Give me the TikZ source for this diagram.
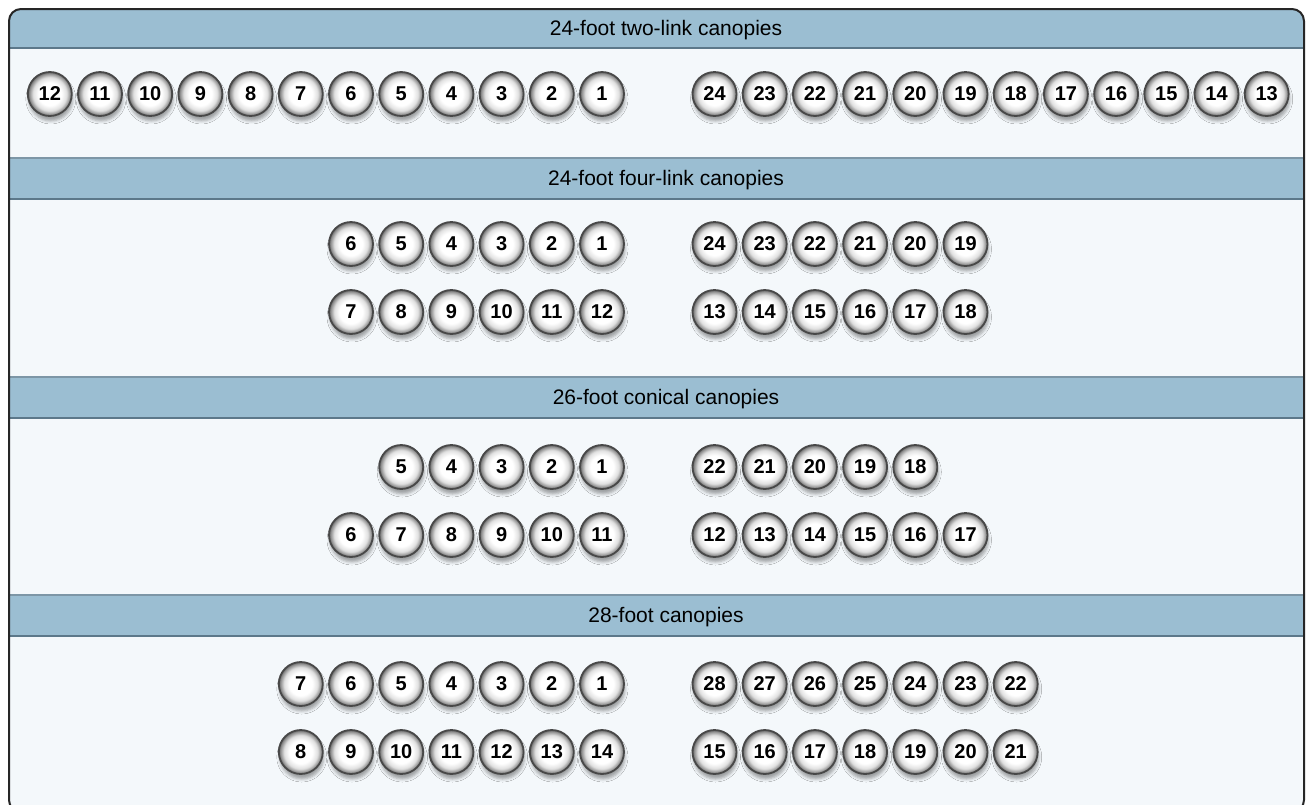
\documentclass[tikz,border=0pt]{standalone}
\usepackage{fontspec}
\setmainfont{Liberation Sans}
\usetikzlibrary{shadows.blur}

\definecolor{hdrblue}{RGB}{155,190,210}
\definecolor{hdrtop}{RGB}{125,150,166}
\definecolor{hdrbot}{RGB}{92,120,138}
\definecolor{panel}{RGB}{244,248,251}
\definecolor{rim}{RGB}{72,72,72}

\pgfdeclareradialshading{knob}{\pgfpoint{0bp}{0bp}}{color(0bp)=(white); color(13bp)=(white); color(19bp)=(black!12); color(23bp)=(black!42); color(25bp)=(black!60); color(50bp)=(black!60)}

\begin{document}
\begin{tikzpicture}[x=1pt, y=-1pt,
  ball/.style={circle, draw=rim, line width=1.8pt, minimum size=44pt, inner sep=0pt,
               shading=knob,
               blur shadow={shadow xshift=1pt, shadow yshift=-5pt, shadow blur radius=3pt, shadow opacity=35},
               font=\fontsize{20}{22}\selectfont\bfseries},
  hdrtext/.style={font=\fontsize{21}{24}\selectfont, inner sep=0pt}
]
  \useasboundingbox (0,0) rectangle (1308,804);

  % panel and header bars
  \begin{scope}
    \clip[rounded corners=12pt] (9,9) rectangle (1304,812);
    \fill[panel] (9,9) rectangle (1304,812);
    \foreach \top/\bot in {8/48, 158/199, 377/418, 595/636} {
      \fill[hdrblue] (9,\top) rectangle (1304,\bot);
      \draw[hdrtop, line width=1.2pt] (9,\top) -- (1304,\top);
      \draw[hdrbot, line width=1.5pt] (9,\bot) -- (1304,\bot);
    }
  \end{scope}
  \draw[black!85, line width=2pt, rounded corners=12pt] (9,9) rectangle (1304,812);

  \node[hdrtext] (hdr1) at (666,30)  {24-foot two-link canopies};
  \node[hdrtext] (hdr2) at (666,180) {24-foot four-link canopies};
  \node[hdrtext] (hdr3) at (666,399) {26-foot conical canopies};
  \node[hdrtext] (hdr4) at (666,617) {28-foot canopies};

  % 24-foot two-link
  \foreach \n in {12,11,...,1}
    \node[ball] (tl\n) at ({602-(\n-1)*50.2},94) {\n};
  \foreach \n in {24,23,...,13}
    \node[ball] (tl\n) at ({714.5+(24-\n)*50.2},94) {\n};

  % 24-foot four-link
  \foreach \n in {6,5,...,1}
    \node[ball] (fl\n) at ({602-(\n-1)*50.2},244) {\n};
  \foreach \n in {24,23,...,19}
    \node[ball] (fl\n) at ({714.5+(24-\n)*50.2},244) {\n};
  \foreach \n in {7,...,12}
    \node[ball] (fl\n) at ({351+(\n-7)*50.2},312) {\n};
  \foreach \n in {13,...,18}
    \node[ball] (fl\n) at ({714.5+(\n-13)*50.2},312) {\n};

  % 26-foot conical
  \foreach \n in {5,4,...,1}
    \node[ball] (co\n) at ({602-(\n-1)*50.2},467) {\n};
  \foreach \n in {22,21,...,18}
    \node[ball] (co\n) at ({714.5+(22-\n)*50.2},467) {\n};
  \foreach \n in {6,...,11}
    \node[ball] (co\n) at ({602-(11-\n)*50.2},535) {\n};
  \foreach \n in {12,...,17}
    \node[ball] (co\n) at ({714.5+(\n-12)*50.2},535) {\n};

  % 28-foot
  \foreach \n in {7,6,...,1}
    \node[ball] (ef\n) at ({602-(\n-1)*50.2},684) {\n};
  \foreach \n in {28,27,...,22}
    \node[ball] (ef\n) at ({714.5+(28-\n)*50.2},684) {\n};
  \foreach \n in {8,...,14}
    \node[ball] (ef\n) at ({602-(14-\n)*50.2},752) {\n};
  \foreach \n in {15,...,21}
    \node[ball] (ef\n) at ({714.5+(\n-15)*50.2},752) {\n};
\end{tikzpicture}
\end{document}
